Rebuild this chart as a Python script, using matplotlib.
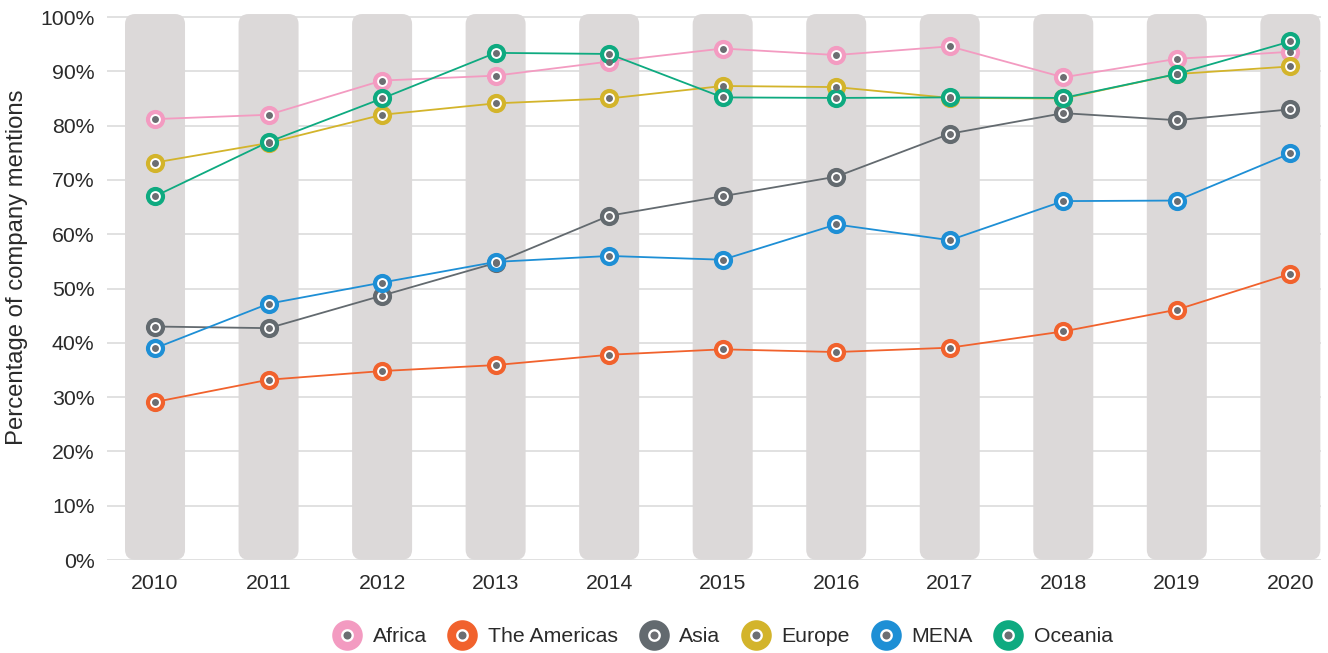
import matplotlib
matplotlib.use("Agg")
import matplotlib.pyplot as plt
from matplotlib.patches import FancyBboxPatch
from matplotlib.lines import Line2D

plt.rcParams['font.family'] = ['Liberation Sans', 'DejaVu Sans']

years = [2010, 2011, 2012, 2013, 2014, 2015, 2016, 2017, 2018, 2019, 2020]
africa = [81.2, 82.0, 88.3, 89.2, 91.8, 94.2, 93.0, 94.6, 88.9, 92.3, 93.6]
americas = [29.1, 33.2, 34.8, 35.9, 37.8, 38.8, 38.3, 39.1, 42.1, 46.1, 52.7]
asia = [43.0, 42.7, 48.7, 54.7, 63.4, 67.0, 70.6, 78.5, 82.3, 81.0, 83.0]
europe = [73.2, 76.8, 82.0, 84.1, 85.0, 87.3, 87.1, 85.1, 85.0, 89.5, 90.9]
mena = [39.0, 47.2, 51.1, 54.9, 56.0, 55.3, 61.8, 58.9, 66.1, 66.2, 74.9]
oceania = [67.0, 77.0, 85.0, 93.4, 93.2, 85.2, 85.1, 85.2, 85.1, 89.5, 95.5]

series = [
    ("Africa", africa, "#f39bc1"),
    ("The Americas", americas, "#f1622d"),
    ("Asia", asia, "#636a6f"),
    ("Europe", europe, "#d3b42b"),
    ("MENA", mena, "#1e8fd5"),
    ("Oceania", oceania, "#0eaa80"),
]
yticks = [0, 10, 20, 30, 40, 50, 60, 70, 80, 90, 100]
ytick_labels = [f"{v}%" for v in yticks]

W, H = 1328, 653
fig = plt.figure(figsize=(W / 100, H / 100), dpi=100)
ax = fig.add_axes([107 / W, 1 - 560 / H, (1321 - 107) / W, (560 - 11.6) / H])

xmin, xmax = 2009.577, 2020.27
ymin, ymax = 0, 101
ax.set_xlim(xmin, xmax)
ax.set_ylim(ymin, ymax)

px_x = (1321 - 107) / (xmax - xmin)
px_y = (560 - 11.6) / (ymax - ymin)
aspect = px_x / px_y

for v in yticks:
    ax.axhline(v, color="#dedede", lw=1.3, zorder=0.5)

bw = 60 / px_x
for yr in years:
    p = FancyBboxPatch((yr - bw / 2, 0.05), bw, 100.5,
                       boxstyle=f"round,pad=0,rounding_size={10 / px_x}",
                       mutation_aspect=aspect,
                       facecolor="#dcd9d9", edgecolor="none", zorder=1)
    ax.add_patch(p)

dot_color = "#6c6e72"
for name, vals, col in series:
    ax.plot(years, vals, color=col, lw=1.3, zorder=3)
    ax.plot(years, vals, ls="none", marker="o", ms=10.8, mfc="white",
            mec=col, mew=3.0, zorder=4)
    ax.plot(years, vals, ls="none", marker="o", ms=5.0, mfc=dot_color,
            mec="none", zorder=5)

FS = 15.3
ax.set_xticks(years)
ax.set_xticklabels([str(y) for y in years])
ax.set_yticks(yticks)
ax.set_yticklabels(ytick_labels)
ax.tick_params(axis="both", length=0, labelsize=FS, colors="#2a2a2a")
ax.tick_params(axis="x", pad=10)
ax.tick_params(axis="y", pad=9)
for s in ax.spines.values():
    s.set_visible(False)
fig.text(17 / W, 1 - 267 / H, "Percentage of company mentions", rotation=90,
         ha="center", va="center", fontsize=17.2, color="#2a2a2a")

handles = []
for name, vals, col in series:
    ring = Line2D([], [], ls="none", marker="o", ms=15.6, mfc="white", mec=col, mew=6.4)
    dot = Line2D([], [], ls="none", marker="o", ms=5.8, mfc=dot_color, mec="none")
    handles.append((ring, dot))
fig.legend(handles, [s[0] for s in series], loc="center", bbox_to_anchor=(722 / W, 1 - 637 / H),
           ncol=6, frameon=False, fontsize=FS, handletextpad=0.45, columnspacing=0.93,
           handlelength=1.5, labelcolor="#2a2a2a")

fig.savefig("out.png", dpi=100, facecolor="white")
